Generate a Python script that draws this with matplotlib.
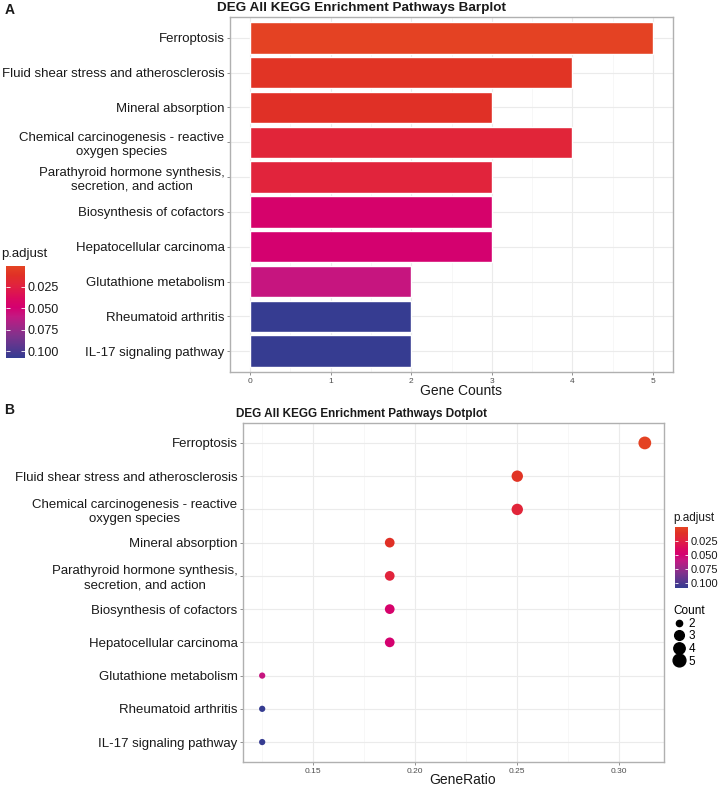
import matplotlib
matplotlib.use('Agg')
import matplotlib.pyplot as plt
import numpy as np
from matplotlib.colors import LinearSegmentedColormap, Normalize
from matplotlib.cm import ScalarMappable
from matplotlib.lines import Line2D
from matplotlib.ticker import MultipleLocator, FixedLocator

plt.rcParams['font.family'] = ['Liberation Sans', 'DejaVu Sans']

# ---------------- data ----------------
pathways = [
    "Ferroptosis",
    "Fluid shear stress and atherosclerosis",
    "Mineral absorption",
    "Chemical carcinogenesis - reactive\noxygen species",
    "Parathyroid hormone synthesis,\nsecretion, and action",
    "Biosynthesis of cofactors",
    "Hepatocellular carcinoma",
    "Glutathione metabolism",
    "Rheumatoid arthritis",
    "IL-17 signaling pathway",
]
gene_counts = [5, 4, 3, 4, 3, 3, 3, 2, 2, 2]
p_adjust = [0.0015, 0.009, 0.011, 0.021, 0.022, 0.046, 0.048, 0.058, 0.107, 0.107]
gene_ratio = [0.3125, 0.25, 0.1875, 0.25, 0.1875, 0.1875, 0.1875, 0.125, 0.125, 0.125]
dot_order = [
    "Ferroptosis",
    "Fluid shear stress and atherosclerosis",
    "Chemical carcinogenesis - reactive\noxygen species",
    "Mineral absorption",
    "Parathyroid hormone synthesis,\nsecretion, and action",
    "Biosynthesis of cofactors",
    "Hepatocellular carcinoma",
    "Glutathione metabolism",
    "Rheumatoid arthritis",
    "IL-17 signaling pathway",
]
cbar_ticks = [0.025, 0.050, 0.075, 0.100]
bar_xticks = [0, 1, 2, 3, 4, 5]
dot_xticks = [0.15, 0.20, 0.25, 0.30]
count_levels = [2, 3, 4, 5]

# ---------------- styles ----------------
W, H = 726, 786
fig = plt.figure(figsize=(W / 100, H / 100), dpi=100)

def box(l, t, r, b):
    return [l / W, 1 - b / H, (r - l) / W, (b - t) / H]

cmap = LinearSegmentedColormap.from_list("padj", [
    (0.00, (228/255, 68/255, 35/255)),
    (0.10, (224/255, 48/255, 38/255)),
    (0.20, (225/255, 36/255, 60/255)),
    (0.36, (218/255, 8/255, 96/255)),
    (0.45, (212/255, 0/255, 112/255)),
    (0.55, (195/255, 25/255, 130/255)),
    (0.75, (130/255, 50/255, 140/255)),
    (1.00, (52/255, 60/255, 145/255)),
])
norm = Normalize(vmin=0.0005, vmax=0.108)
size_map = {2: 4.5, 3: 7.0, 4: 8.2, 5: 9.2}  # marker diameter in points

TXT = '#1a1a1a'
TICKTXT = '#4d4d4d'
BORDER = '#b0b0b0'

def style_axes(ax):
    for s in ax.spines.values():
        s.set_color(BORDER)
        s.set_linewidth(1.0)
    ax.set_axisbelow(True)
    ax.grid(which='major', color='#ebebeb', linewidth=0.8)
    ax.grid(which='minor', axis='x', color='#f4f4f4', linewidth=0.5)
    ax.tick_params(axis='y', which='major', length=2.5, width=0.6, color='#7f7f7f',
                   labelsize=9.5, labelcolor=TXT, pad=1.5)
    ax.tick_params(axis='x', which='major', length=2.5, width=0.6, color='#7f7f7f',
                   labelsize=6, labelcolor=TICKTXT, pad=2)
    ax.tick_params(which='minor', length=0)
    for lab in ax.get_yticklabels():
        lab.set_multialignment('center')

# ---------------- Panel A: barplot ----------------
axA = fig.add_axes(box(230, 17, 673, 372))
ypos = np.arange(len(pathways))
axA.barh(ypos, gene_counts, height=0.9, color=cmap(norm(np.array(p_adjust))),
         edgecolor='white', linewidth=1.0, zorder=3)
axA.set_yticks(ypos)
axA.set_yticklabels(pathways)
axA.set_ylim(len(pathways) - 1 + 0.6, -0.6)
axA.set_xlim(-0.25, 5.25)
axA.xaxis.set_major_locator(FixedLocator(bar_xticks))
axA.xaxis.set_minor_locator(MultipleLocator(0.5))
style_axes(axA)
fig.text(461 / W, 1 - 391 / H, "Gene Counts", ha='center', va='center', fontsize=10, color=TXT)
fig.text(361.5 / W, 1 - 8 / H, "DEG All KEGG Enrichment Pathways Barplot", ha='center',
         va='center', fontsize=9.7, fontweight='bold', color=TXT)
fig.text(5 / W, 1 - 10 / H, "A", ha='left', va='center', fontsize=10, fontweight='bold', color=TXT)

# colorbar A
caxA = fig.add_axes(box(6, 266, 25, 358))
cbA = fig.colorbar(ScalarMappable(norm=norm, cmap=cmap), cax=caxA)
cbA.outline.set_visible(False)
caxA.invert_yaxis()
cbA.set_ticks(cbar_ticks)
cbA.set_ticklabels([f"{t:.3f}" for t in cbar_ticks])
caxA.tick_params(direction='in', length=3, width=0.6, color='white', left=True, right=True,
                 labelsize=9, labelcolor=TXT, pad=2)
fig.text(1 / W, 1 - 254 / H, "p.adjust", ha='left', va='center', fontsize=9.5, color=TXT)

# ---------------- Panel B: dotplot ----------------
axB = fig.add_axes(box(243, 423, 664, 762))
idx = [pathways.index(p) for p in dot_order]
yB = np.arange(len(dot_order))
xB = [gene_ratio[i] for i in idx]
cB = cmap(norm(np.array([p_adjust[i] for i in idx])))
sB = [size_map[gene_counts[i]] ** 2 for i in idx]
axB.scatter(xB, yB, s=sB, c=cB, edgecolors='none', zorder=3)
axB.set_yticks(yB)
axB.set_yticklabels(dot_order)
axB.set_ylim(len(dot_order) - 1 + 0.6, -0.6)
axB.set_xlim(0.1156, 0.3219)
axB.xaxis.set_major_locator(FixedLocator(dot_xticks))
axB.xaxis.set_minor_locator(FixedLocator([0.125, 0.175, 0.225, 0.275]))
axB.set_xticklabels([f"{t:.2f}" for t in dot_xticks])
style_axes(axB)
fig.text(463 / W, 1 - 780 / H, "GeneRatio", ha='center', va='center', fontsize=10, color=TXT)
fig.text(362 / W, 1 - 414 / H, "DEG All KEGG Enrichment Pathways Dotplot", ha='center',
         va='center', fontsize=8.5, fontweight='bold', color=TXT)
fig.text(4 / W, 1 - 410 / H, "B", ha='left', va='center', fontsize=10, fontweight='bold', color=TXT)

# colorbar B
caxB = fig.add_axes(box(675, 527, 688, 588))
cbB = fig.colorbar(ScalarMappable(norm=norm, cmap=cmap), cax=caxB)
cbB.outline.set_visible(False)
caxB.invert_yaxis()
cbB.set_ticks(cbar_ticks)
cbB.set_ticklabels([f"{t:.3f}" for t in cbar_ticks])
caxB.tick_params(direction='in', length=2.5, width=0.6, color='white', left=True, right=True,
                 labelsize=8, labelcolor=TXT, pad=2)
fig.text(673 / W, 1 - 518 / H, "p.adjust", ha='left', va='center', fontsize=8.5, color=TXT)

# size legend
handles = [Line2D([], [], linestyle='none', marker='o', color='black',
                  markersize=size_map[c]) for c in count_levels]
leg = fig.legend(handles, [str(c) for c in count_levels], title="Count",
                 loc='upper left', bbox_to_anchor=(665 / W, 1 - 597 / H),
                 frameon=False, fontsize=8.5, title_fontsize=8.5,
                 handlelength=1.0, handletextpad=0.3, labelspacing=0.05,
                 borderpad=0.2, alignment='left')

fig.savefig("out.png", dpi=100)
